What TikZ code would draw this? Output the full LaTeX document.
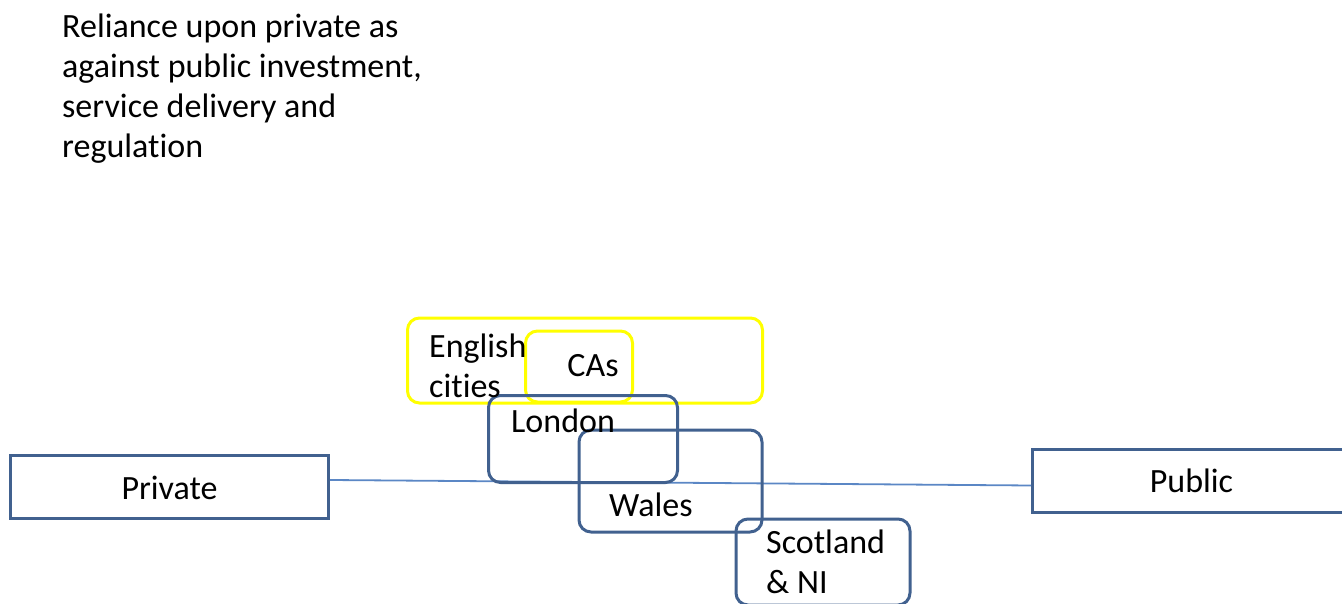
\documentclass[tikz,border=0pt]{standalone}
\usepackage{fontspec}
\setmainfont{Carlito}[Ligatures=NoCommon]
\definecolor{boxblue}{HTML}{41618F}
\definecolor{lineblue}{HTML}{5B87C5}
\definecolor{hiyellow}{HTML}{FFFF00}
\tikzset{
  sidebox/.style={draw=boxblue, line width=3pt, fill=white, inner sep=0pt},
  regbox/.style={draw=boxblue, line width=3pt, rounded corners=12pt, inner sep=0pt},
  ylwbox/.style={draw=hiyellow, line width=3pt, rounded corners=12pt, inner sep=0pt},
  lbl/.style={inner sep=0pt, font=\fontsize{34}{39.5}\selectfont, align=left},
  axis/.style={draw=lineblue, line width=1.8pt}
}
\begin{document}
\begin{tikzpicture}[x=1pt,y=-1pt]
\useasboundingbox (0,0) rectangle (1342,604);
% title
\node[lbl, anchor=north west, font=\fontsize{34}{40}\selectfont] (title) at (62,14) {Reliance upon private as\\against public investment,\\service delivery and\\regulation};
% side boxes
\node[sidebox, minimum width=318pt, minimum height=63pt] (priv) at (169.5,487) {};
\node[sidebox, minimum width=318pt, minimum height=63pt] (pub) at (1191.5,481) {};
\draw[axis] ([yshift=7pt]priv.east) -- ([yshift=-4.5pt]pub.west);
% region boxes
\node[ylwbox, minimum width=355pt, minimum height=85pt] (engbox) at (585,360.5) {};
\node[ylwbox, minimum width=107pt, minimum height=71pt] (cabox) at (579,366.5) {};
\node[regbox, minimum width=189pt, minimum height=87pt] (lonbox) at (583,439) {};
\node[regbox, minimum width=183pt, minimum height=102pt] (walbox) at (670.5,481) {};
\node[regbox, minimum width=174pt, minimum height=86pt] (scobox) at (823,562) {};
% labels
\node[lbl, anchor=west] (eng) at (429,366) {English\\cities};
\node[lbl] (ca) at (593,366) {CAs};
\node[lbl, anchor=west] (lon) at (511,421) {London};
\node[lbl, anchor=west] (wal) at (609,505) {Wales};
\node[lbl, anchor=west] (sco) at (766,562) {Scotland\\\& NI};
\node[lbl] (privt) at (169.5,488) {Private};
\node[lbl] (pubt) at (1191.5,481) {Public};
\end{tikzpicture}
\end{document}
